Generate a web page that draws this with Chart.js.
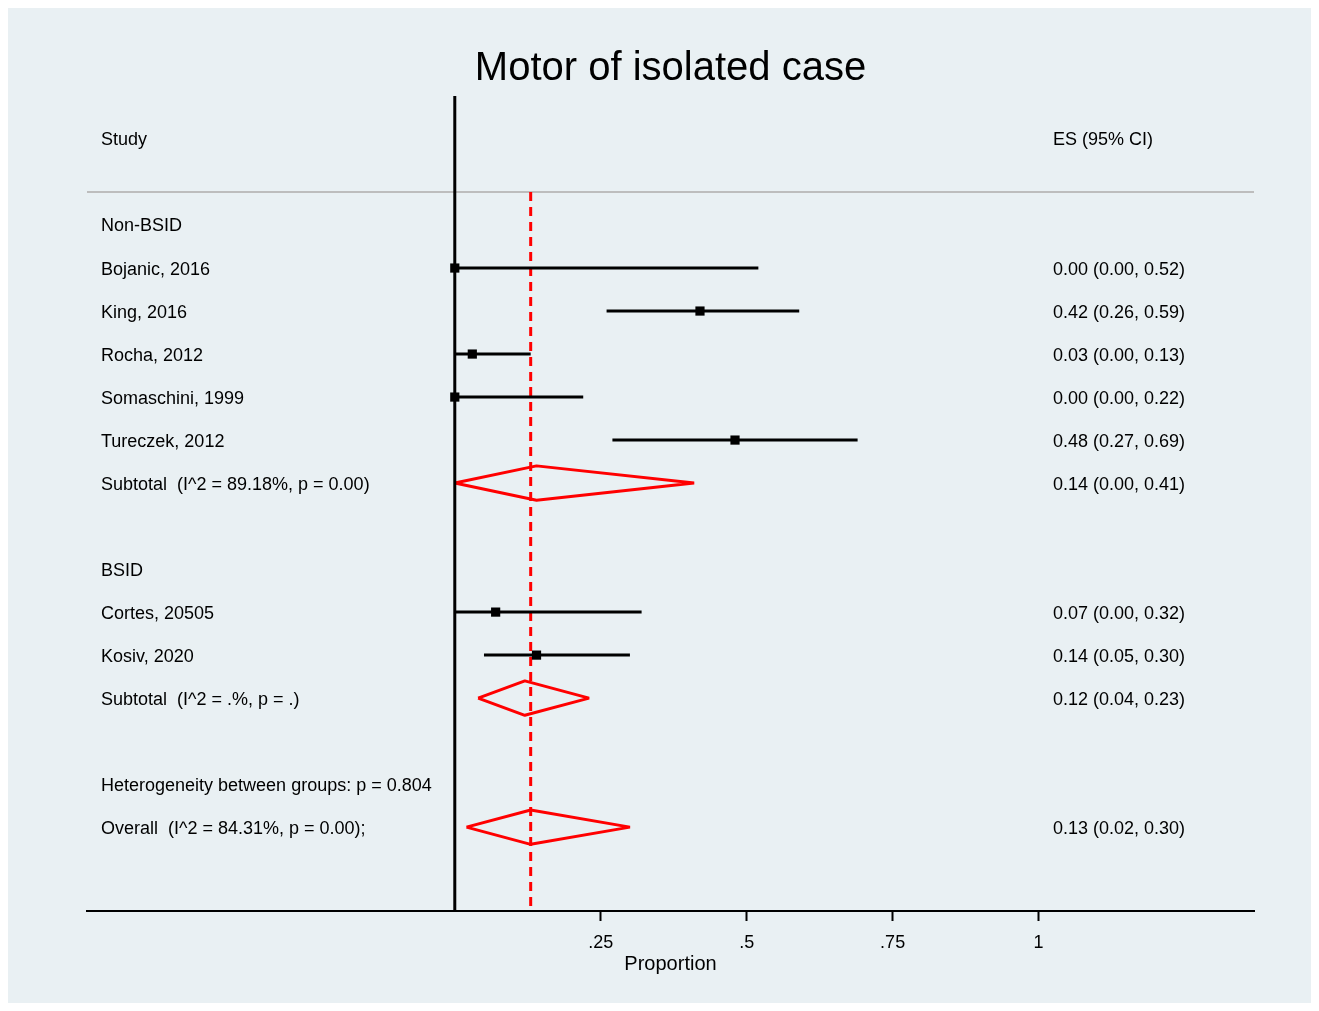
<!DOCTYPE html>
<html>
<head>
<meta charset="utf-8">
<script src="https://cdn.jsdelivr.net/npm/chart.js@4.4.1/dist/chart.umd.min.js"></script>
<style>
  html, body { margin: 0; padding: 0; background: #ffffff; }
  #wrap { width: 1319px; height: 1011px; }
</style>
</head>
<body>
<div id="wrap"><canvas id="forest" width="1319" height="1011"></canvas></div>
<script>
// individual studies
const studyNames = ['Bojanic, 2016', 'King, 2016', 'Rocha, 2012', 'Somaschini, 1999', 'Tureczek, 2012', 'Cortes, 20505', 'Kosiv, 2020'];
const studyES = [0.00, 0.42, 0.03, 0.00, 0.48, 0.07, 0.14];
const studyLo = [0.00, 0.26, 0.00, 0.00, 0.27, 0.00, 0.05];
const studyHi = [0.52, 0.59, 0.13, 0.22, 0.69, 0.32, 0.30];
const studyRows = [1, 2, 3, 4, 5, 9, 10];

// pooled estimates (diamonds)
const poolNames = ['Subtotal  (I^2 = 89.18%, p = 0.00)', 'Subtotal  (I^2 = .%, p = .)', 'Overall  (I^2 = 84.31%, p = 0.00);'];
const poolES = [0.14, 0.12, 0.13];
const poolLo = [0.00, 0.04, 0.02];
const poolHi = [0.41, 0.23, 0.30];
const poolRows = [6, 11, 14];

// group headings
const headNames = ['Non-BSID', 'BSID', 'Heterogeneity between groups: p = 0.804'];
const headRows = [0, 8, 13];

const xTicks = [0.25, 0.5, 0.75, 1];
const overallES = 0.13;

const xMin = -0.63, xMax = 1.369;
const yMin = -3, yMax = 15.95;
const headerRow = -2;
const ruleRow = -0.767;
const diamondHalf = 0.4;

const fontFamily = '"Liberation Sans", Arial, Helvetica, sans-serif';

function fmt(v) {
  return v.toFixed(2);
}

const datasets = [];

// confidence interval lines
studyNames.forEach(function(name, i) {
  datasets.push({
    type: 'scatter',
    label: name,
    data: [{ x: studyLo[i], y: studyRows[i] }, { x: studyHi[i], y: studyRows[i] }],
    showLine: true,
    borderColor: '#000000',
    borderWidth: 3,
    pointRadius: 0,
    order: 2
  });
});

// point estimates
datasets.push({
  type: 'scatter',
  label: 'ES',
  data: studyES.map(function(v, i) { return { x: v, y: studyRows[i] }; }),
  pointStyle: 'rect',
  pointRadius: 6.5,
  backgroundColor: '#000000',
  borderColor: '#000000',
  borderWidth: 0,
  order: 1
});

// diamonds
poolNames.forEach(function(name, i) {
  const r = poolRows[i];
  datasets.push({
    type: 'scatter',
    label: name,
    data: [
      { x: poolLo[i], y: r },
      { x: poolES[i], y: r - diamondHalf },
      { x: poolHi[i], y: r },
      { x: poolES[i], y: r + diamondHalf },
      { x: poolLo[i], y: r }
    ],
    showLine: true,
    borderColor: '#ff0000',
    borderWidth: 3,
    borderJoinStyle: 'bevel',
    pointRadius: 0,
    order: 3
  });
});

// null line at 0
datasets.push({
  type: 'scatter',
  label: 'null',
  data: [{ x: 0, y: yMin }, { x: 0, y: yMax }],
  showLine: true,
  borderColor: '#000000',
  borderWidth: 3,
  pointRadius: 0,
  order: 0
});

// overall reference line
datasets.push({
  type: 'scatter',
  label: 'overall',
  data: [{ x: overallES, y: ruleRow }, { x: overallES, y: yMax }],
  showLine: true,
  borderColor: '#ff0000',
  borderWidth: 3,
  borderDash: [9, 6],
  pointRadius: 0,
  order: 4
});

// grey rule under the header
datasets.push({
  type: 'scatter',
  label: 'rule',
  data: [{ x: xMin, y: ruleRow }, { x: xMax, y: ruleRow }],
  showLine: true,
  borderColor: '#bdbdbd',
  borderWidth: 2,
  pointRadius: 0,
  order: 5
});

const panelBackground = {
  id: 'panelBackground',
  beforeDraw: function(chart) {
    const ctx = chart.ctx;
    ctx.save();
    ctx.fillStyle = '#ffffff';
    ctx.fillRect(0, 0, chart.width, chart.height);
    ctx.fillStyle = '#e9f0f3';
    ctx.fillRect(8, 8, chart.width - 16, chart.height - 16);
    ctx.restore();
  }
};

const rowText = {
  id: 'rowText',
  afterDatasetsDraw: function(chart) {
    const ctx = chart.ctx;
    const y = chart.scales.y;
    const leftX = 101, rightX = 1053;
    const dy = 1.5;
    ctx.save();
    ctx.fillStyle = '#000000';
    ctx.font = '18px ' + fontFamily;
    ctx.textBaseline = 'middle';
    ctx.textAlign = 'left';

    ctx.fillText('Study', leftX, y.getPixelForValue(headerRow) + dy);
    ctx.fillText('ES (95% CI)', rightX, y.getPixelForValue(headerRow) + dy);

    headNames.forEach(function(name, i) {
      ctx.fillText(name, leftX, y.getPixelForValue(headRows[i]) + dy);
    });
    studyNames.forEach(function(name, i) {
      const py = y.getPixelForValue(studyRows[i]) + dy;
      ctx.fillText(name, leftX, py);
      ctx.fillText(fmt(studyES[i]) + ' (' + fmt(studyLo[i]) + ', ' + fmt(studyHi[i]) + ')', rightX, py);
    });
    poolNames.forEach(function(name, i) {
      const py = y.getPixelForValue(poolRows[i]) + dy;
      ctx.fillText(name, leftX, py);
      ctx.fillText(fmt(poolES[i]) + ' (' + fmt(poolLo[i]) + ', ' + fmt(poolHi[i]) + ')', rightX, py);
    });
    ctx.restore();
  }
};

new Chart(document.getElementById('forest').getContext('2d'), {
  type: 'scatter',
  data: { datasets: datasets },
  options: {
    responsive: false,
    animation: false,
    layout: {
      padding: { left: 87, right: 65, top: 0, bottom: 0 }
    },
    plugins: {
      legend: { display: false },
      tooltip: { enabled: false },
      title: {
        display: true,
        text: 'Motor of isolated case',
        color: '#000000',
        font: { family: fontFamily, size: 40, weight: 'normal', lineHeight: 1.2 },
        padding: { top: 45, bottom: 3 }
      }
    },
    scales: {
      x: {
        type: 'linear',
        min: xMin,
        max: xMax,
        afterBuildTicks: function(scale) {
          scale.ticks = xTicks.map(function(v) { return { value: v }; });
        },
        afterFit: function(scale) {
          scale.height = 100;
        },
        border: { display: true, color: '#000000', width: 2 },
        grid: {
          drawOnChartArea: false,
          drawTicks: true,
          tickLength: 10,
          tickColor: '#000000',
          tickWidth: 2
        },
        ticks: {
          color: '#000000',
          padding: 11,
          maxRotation: 0,
          autoSkip: false,
          font: { family: fontFamily, size: 18 },
          callback: function(value) {
            return String(value).replace(/^0\./, '.');
          }
        },
        title: {
          display: true,
          text: 'Proportion',
          color: '#000000',
          font: { family: fontFamily, size: 20 },
          padding: { top: 0, bottom: 35 }
        }
      },
      y: {
        type: 'linear',
        display: false,
        reverse: true,
        min: yMin,
        max: yMax
      }
    }
  },
  plugins: [panelBackground, rowText]
});
</script>
</body>
</html>
